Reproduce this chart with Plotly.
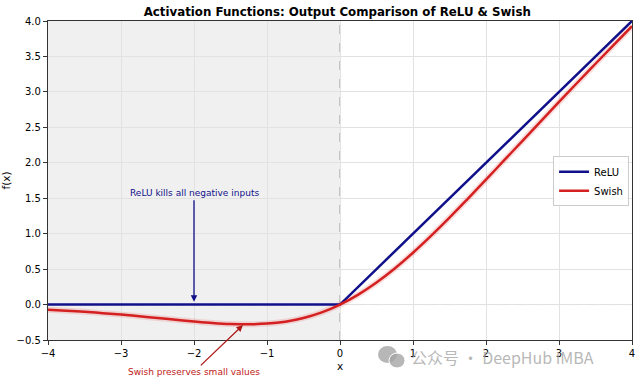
import plotly.graph_objects as go

# ---- data ----
relu_x = [-4, 0, 4]
relu_y = [0, 0, 4]
swish_x = [-4, -3.75, -3.5, -3.25, -3, -2.75, -2.5, -2.25, -2, -1.75, -1.5, -1.25, -1,
           -0.75, -0.5, -0.25, 0, 0.25, 0.5, 0.75, 1, 1.25, 1.5, 1.75, 2, 2.25, 2.5,
           2.75, 3, 3.25, 3.5, 3.75, 4]
swish_y = [-0.072, -0.086, -0.103, -0.121, -0.142, -0.165, -0.190, -0.215, -0.238,
           -0.259, -0.274, -0.278, -0.269, -0.241, -0.189, -0.110, 0.0, 0.141, 0.311,
           0.509, 0.731, 0.972, 1.226, 1.491, 1.762, 2.036, 2.310, 2.585, 2.858,
           3.129, 3.397, 3.664, 3.928]
x_ticks = [-4, -3, -2, -1, 0, 1, 2, 3, 4]
x_tick_labels = ["\u22124", "\u22123", "\u22122", "\u22121", "0", "1", "2", "3", "4"]
y_ticks = [-0.5, 0.0, 0.5, 1.0, 1.5, 2.0, 2.5, 3.0, 3.5, 4.0]
y_tick_labels = ["\u22120.5", "0.0", "0.5", "1.0", "1.5", "2.0", "2.5", "3.0", "3.5", "4.0"]

BLUE = "#10108a"
RED = "#d42020"
FONT = "DejaVu Sans"
W, H = 640, 384
ML, MR, MT, MB = 48, 8, 21, 44
PW, PH = W - ML - MR, H - MT - MB


def px(xp):
    return (xp - ML) / PW


def py(yp):
    return (H - MB - yp) / PH


fig = go.Figure()

fig.add_trace(go.Scatter(x=swish_x, y=swish_y, mode="lines",
                         line=dict(color="rgba(230,90,90,0.2)", width=6, shape="spline"),
                         showlegend=False, hoverinfo="skip"))
fig.add_trace(go.Scatter(x=relu_x, y=relu_y, mode="lines", name="ReLU",
                         line=dict(color=BLUE, width=2.5)))
fig.add_trace(go.Scatter(x=swish_x, y=swish_y, mode="lines", name="Swish",
                         line=dict(color=RED, width=2.5, shape="spline")))

WM = "rgba(165,165,165,0.8)"
shapes = [
    dict(type="rect", xref="x", yref="paper", x0=-4, x1=0, y0=0, y1=1,
         fillcolor="#f0f0f0", line=dict(width=0), layer="below"),
    dict(type="line", xref="x", yref="paper", x0=0, x1=0, y0=0, y1=1,
         line=dict(color="#999999", width=1, dash="dash"), layer="below"),
    dict(type="line", xref="paper", yref="y", x0=0, x1=1, y0=0, y1=0,
         line=dict(color="#aaaaaa", width=1, dash="dash"), layer="below"),
    # watermark icon
    dict(type="circle", xref="paper", yref="paper", x0=px(378), x1=px(397), y0=py(363), y1=py(346),
         fillcolor=WM, line=dict(width=0)),
    dict(type="circle", xref="paper", yref="paper", x0=px(389), x1=px(405), y0=py(368), y1=py(353),
         fillcolor=WM, line=dict(color="white", width=1)),
]

annotations = [
    dict(x=-2, y=0.04, ax=-2, ay=1.47, xref="x", yref="y", axref="x", ayref="y",
         text="ReLU kills all negative inputs", showarrow=True, arrowhead=2, arrowsize=1,
         arrowwidth=1.3, arrowcolor=BLUE, font=dict(color=BLUE, size=9, family=FONT),
         yanchor="bottom", standoff=0, startstandoff=0),
    dict(x=-1.33, y=-0.29, ax=-2.0, ay=-0.95, xref="x", yref="y", axref="x", ayref="y",
         text="Swish preserves small values", showarrow=True, arrowhead=2, arrowsize=1,
         arrowwidth=1.3, arrowcolor="#b01818", font=dict(color="#c01818", size=9, family=FONT),
         standoff=0),
    dict(x=px(409), y=py(357), xref="paper", yref="paper", xanchor="left", yanchor="middle",
         text="公众号 · DeepHub IMBA", showarrow=False,
         font=dict(color=WM, size=16, family="Noto Sans CJK SC")),
]

fig.update_layout(
    width=W, height=H,
    margin=dict(l=ML, r=MR, t=MT, b=MB, autoexpand=False),
    paper_bgcolor="white", plot_bgcolor="white",
    font=dict(family=FONT, size=10, color="black"),
    title=dict(text="<b>Activation Functions: Output Comparison of ReLU & Swish</b>",
               x=0.527, xanchor="center", y=1 - 12 / H, yanchor="middle",
               font=dict(size=11.8, family=FONT, color="black")),
    shapes=shapes, annotations=annotations,
    legend=dict(x=0.995, y=0.498, xanchor="right", yanchor="middle",
                bgcolor="rgba(255,255,255,0.85)", bordercolor="#cccccc", borderwidth=1,
                font=dict(size=10, family=FONT), itemwidth=30),
    showlegend=True,
)
fig.update_xaxes(range=[-4, 4], tickvals=x_ticks, ticktext=x_tick_labels, automargin=False,
                 showgrid=True, gridcolor="#e2e2e2", gridwidth=1, zeroline=False,
                 showline=True, linecolor="#333333", linewidth=1.2, mirror=True,
                 ticks="outside", ticklen=4, tickcolor="#333333",
                 title=dict(text="x", standoff=4, font=dict(size=10.5)))
fig.update_yaxes(range=[-0.5, 4], tickvals=y_ticks, ticktext=y_tick_labels, automargin=False,
                 showgrid=True, gridcolor="#e2e2e2", gridwidth=1, zeroline=False,
                 showline=True, linecolor="#333333", linewidth=1.2, mirror=True,
                 ticks="outside", ticklen=4, tickcolor="#333333",
                 title=dict(text="f(x)", standoff=8, font=dict(size=10.5)))

fig.write_html("out.html", config={"displayModeBar": False},
               post_script="document.body.style.margin='0';")
